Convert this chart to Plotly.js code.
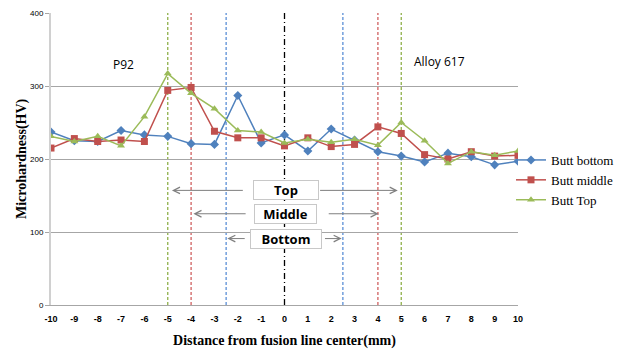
<!DOCTYPE html>
<html>
<head>
<meta charset="utf-8">
<script src="https://cdn.plot.ly/plotly-3.0.1.min.js"></script>
<style>html,body{margin:0;padding:0;background:#fff;}#chart{width:618px;height:349px;}</style>
</head>
<body>
<div id="chart"></div>
<script>
// Data
var distance = [-10,-9,-8,-7,-6,-5,-4,-3,-2,-1,0,1,2,3,4,5,6,7,8,9,10];
var buttBottom = [237,225,224,239,233,231,221,220,287,222,233,211,241,226,210,204,196,208,203,192,197];
var buttMiddle = [215,228,224,226,224,294,298,238,229,229,218,229,217,220,244,235,206,200,210,204,205];
var buttTop    = [231,224,231,218,258,317,290,269,239,237,222,227,223,227,219,250,225,194,210,205,211];
var seriesNames = ['Butt bottom','Butt middle','Butt Top'];
var xTicks = [-10,-9,-8,-7,-6,-5,-4,-3,-2,-1,0,1,2,3,4,5,6,7,8,9,10];
var yTicks = [0,100,200,300,400];

// Zone boundaries (fusion line center and HAZ boundaries)
var centerLineX = [0];
var topBoundsX = [-5, 5];
var middleBoundsX = [-4, 4];
var bottomBoundsX = [-2.5, 2.5];

// Labels
var zoneLabels = ['Top','Middle','Bottom'];
var zoneLabelY = [157, 125, 91];
var arrowTailsLeft = [-1.72, -1.6, -1.64];
var arrowTailsRight = [1.46, 1.83, 1.67];
var arrowHeadsLeft = [-4.82, -3.9, -2.45];
var arrowHeadsRight = [4.85, 4.03, 2.45];
var materialLabels = ['P92','Alloy 617'];
var materialX = [-6.9, 6.65];
var materialY = [329, 333];

var colors = ['#4F81BD','#C0504D','#9BBB59'];
var symbols = ['diamond','square','triangle-up'];
var msizes = [7,7,7];
var ys = [buttBottom, buttMiddle, buttTop];

var traces = ys.map(function(v,i){
  return {x: distance, y: v, name: seriesNames[i], type:'scatter', mode:'lines+markers',
    line:{color:colors[i], width:1.5}, marker:{symbol:symbols[i], size:msizes[i], color:colors[i]}};
});

var shapes = [];
function vline(x, color, dash){
  shapes.push({type:'line', xref:'x', yref:'y', x0:x, x1:x, y0:0, y1:400,
    line:{color:color, width:1.3, dash:dash}, layer:'below'});
}
topBoundsX.forEach(function(x){ vline(x, '#8fb04a', '3px,2px'); });
middleBoundsX.forEach(function(x){ vline(x, '#d06060', '3px,2px'); });
bottomBoundsX.forEach(function(x){ vline(x, '#5b8fd6', '3px,2px'); });
centerLineX.forEach(function(x){ vline(x, '#000000', '6px,3px,1px,3px'); });

var annotations = [];
zoneLabels.forEach(function(t,i){
  annotations.push({x:arrowHeadsLeft[i], y:zoneLabelY[i], ax:arrowTailsLeft[i], ay:zoneLabelY[i],
    xref:'x', yref:'y', axref:'x', ayref:'y', text:'', showarrow:true, arrowhead:5, arrowsize:1.3,
    arrowwidth:1, arrowcolor:'#7f7f7f'});
  annotations.push({x:arrowHeadsRight[i], y:zoneLabelY[i], ax:arrowTailsRight[i], ay:zoneLabelY[i],
    xref:'x', yref:'y', axref:'x', ayref:'y', text:'', showarrow:true, arrowhead:5, arrowsize:1.3,
    arrowwidth:1, arrowcolor:'#7f7f7f'});
});
var boxW = [62, 59, 68];
zoneLabels.forEach(function(t,i){
  annotations.push({x:0.05, y:zoneLabelY[i], xref:'x', yref:'y', text:'<b>'+t+'</b>', showarrow:false,
    font:{family:'Open Sans, Liberation Sans, sans-serif', size:13, color:'#000'},
    bgcolor:'#ffffff', bordercolor:'#c8c8c8', borderwidth:1, width:boxW[i], height:16, borderpad:1});
});
materialLabels.forEach(function(t,i){
  annotations.push({x:materialX[i], y:materialY[i], xref:'x', yref:'y', text:t, showarrow:false,
    font:{family:'Open Sans, Liberation Sans, sans-serif', size:12, color:'#000'}});
});
// y-axis title placed as a rotated annotation
annotations.push({x:-0.062, y:0.5, xref:'paper', yref:'paper', xanchor:'center', yanchor:'middle',
  text:'<b>Microhardness(HV)</b>', textangle:-90, showarrow:false,
  font:{family:'Liberation Serif, Times New Roman, serif', size:14, color:'#000'}});

var layout = {
  width:618, height:349,
  margin:{l:51, r:100, t:13, b:44, autoexpand:false},
  paper_bgcolor:'#fff', plot_bgcolor:'#fff',
  showlegend:true,
  legend:{x:0.985, y:0.548, xanchor:'left', yanchor:'top', bgcolor:'rgba(0,0,0,0)',
    font:{family:'Liberation Serif, Times New Roman, serif', size:13, color:'#000'},
    tracegroupgap:0, itemwidth:30},
  xaxis:{range:[-10,10], tickvals:xTicks, ticktext:xTicks.map(function(v){return '<b>'+v+'</b>';}),
    showgrid:false, zeroline:false, showline:true, linecolor:'#a6a6a6', linewidth:1,
    ticks:'outside', ticklen:5, tickcolor:'rgba(0,0,0,0)', tickfont:{family:'Liberation Sans, Arial, sans-serif', size:9, color:'#000'},
    title:{text:'<b>Distance from fusion line center(mm)</b>', standoff:14,
      font:{family:'Liberation Serif, Times New Roman, serif', size:14, color:'#000'}}},
  yaxis:{range:[0,400], tickvals:yTicks, showgrid:true, gridcolor:'#a6a6a6', gridwidth:1,
    zeroline:false, showline:true, linecolor:'#d0d0d0', linewidth:2,
    ticks:'outside', ticklen:4, tickcolor:'#a6a6a6',
    tickfont:{family:'Liberation Sans, Arial, sans-serif', size:8, color:'#000'}},
  shapes:shapes, annotations:annotations
};

Plotly.newPlot('chart', traces, layout, {displayModeBar:false, staticPlot:true});
</script>
</body>
</html>
